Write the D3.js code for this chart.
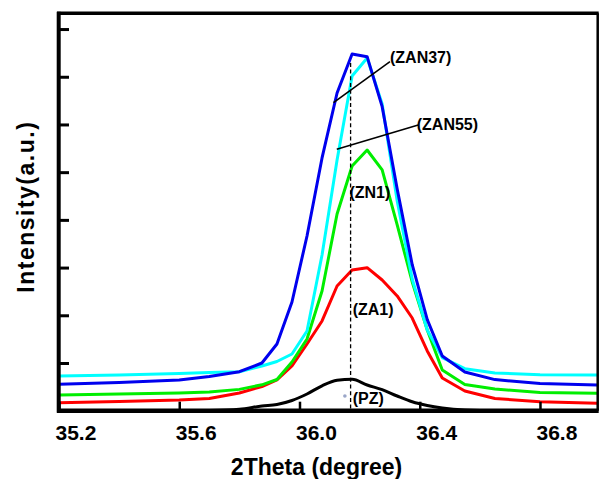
<!DOCTYPE html>
<html>
<head>
<meta charset="utf-8">
<script src="https://cdn.jsdelivr.net/npm/d3@7"></script>
<style>
  html, body { margin: 0; padding: 0; background: #fff; }
  svg { display: block; }
  text { font-family: "Liberation Sans", Arial, sans-serif; font-weight: bold; fill: #000; }
</style>
</head>
<body>
<svg id="chart" width="599" height="479"></svg>
<script>
// ---- data ----
const xs = [35.2, 35.4, 35.6, 35.7, 35.8, 35.875, 35.925, 35.975, 36.025, 36.075, 36.125, 36.175,
            36.225, 36.275, 36.325, 36.375, 36.425, 36.475, 36.55, 36.65, 36.8, 36.99];
const zan37 = [0.553, 0.591, 0.644, 0.717, 0.818, 1.000, 1.398, 2.279, 3.662, 5.298, 6.660, 7.478,
               7.421, 6.373, 4.648, 3.061, 1.910, 1.147, 0.811, 0.652, 0.570, 0.539];
const zan55 = [0.727, 0.748, 0.780, 0.801, 0.818, 0.937, 1.031, 1.189, 1.671, 3.264, 5.256, 7.017,
               7.394, 6.430, 4.396, 2.761, 1.692, 1.113, 0.881, 0.790, 0.753, 0.748];
const zn1   = [0.329, 0.350, 0.371, 0.392, 0.447, 0.543, 0.654, 1.021, 1.503, 2.509, 4.124, 5.130,
               5.465, 5.046, 3.893, 2.698, 1.692, 0.853, 0.549, 0.455, 0.382, 0.365];
const za1   = [0.168, 0.193, 0.224, 0.256, 0.371, 0.507, 0.646, 0.937, 1.398, 1.881, 2.614, 2.950,
               2.998, 2.740, 2.405, 1.943, 1.252, 0.686, 0.413, 0.256, 0.189, 0.155];
const pz    = [0.000, 0.000, 0.000, 0.005, 0.029, 0.099, 0.130, 0.214, 0.350, 0.522, 0.637, 0.658,
               0.539, 0.442, 0.308, 0.187, 0.109, 0.057, 0.015, 0.000, 0.000, 0.000];
const seriesNames  = ["PZ", "ZA1", "ZN1", "ZAN55", "ZAN37"];
const seriesColors = ["#000000", "#ff0000", "#00ee00", "#00ffff", "#0000ee"];
const xTicks = [35.2, 35.6, 36.0, 36.4, 36.8];
const yTicks = [1, 2, 3, 4, 5, 6, 7, 8];
const labelText = ["(ZAN37)", "(ZAN55)", "(ZN1)", "(ZA1)", "(PZ)"];
const labelX = [36.301, 36.390, 36.166, 36.177, 36.177];
const labelY = [7.409, 5.990, 4.579, 2.111, 0.260];
const leaderFrom = [[36.301, 7.317], [36.395, 5.990]];
const leaderTo   = [[36.113, 6.457], [36.124, 5.480]];
const markerX = 36.170, markerTop = 7.29;

// ---- chart ----
const svg = d3.select("#chart");
const L = 59, R = 597.7, T = 13.3, B = 410.7;
const x = d3.scaleLinear().domain([35.2, 36.992]).range([L, R]);
const y = d3.scaleLinear().domain([0, 8.33]).range([B, T]);

const allSeries = [pz, za1, zn1, zan55, zan37];

const clip = svg.append("clipPath").attr("id", "clip")
  .append("rect").attr("x", L).attr("y", T).attr("width", R - L).attr("height", B - T);

const plot = svg.append("g").attr("clip-path", "url(#clip)");

allSeries.forEach((vals, i) => {
  const line = d3.line()
    .x((d, j) => x(xs[j]))
    .y(d => y(d))
    .curve(i === 0 ? d3.curveMonotoneX : d3.curveLinear);
  plot.append("path")
    .datum(vals)
    .attr("fill", "none")
    .attr("stroke", seriesColors[i])
    .attr("stroke-width", 3)
    .attr("stroke-linejoin", "round")
    .attr("d", line);
});

// dashed marker line
svg.append("line")
  .attr("x1", x(markerX)).attr("x2", x(markerX))
  .attr("y1", y(markerTop)).attr("y2", y(0))
  .attr("stroke", "#000").attr("stroke-width", 1.3)
  .attr("stroke-dasharray", "4,2.7");

// leader lines
leaderFrom.forEach((p, i) => {
  svg.append("line")
    .attr("x1", x(p[0])).attr("y1", y(p[1]))
    .attr("x2", x(leaderTo[i][0])).attr("y2", y(leaderTo[i][1]))
    .attr("stroke", "#000").attr("stroke-width", 1.6);
});

// small dot artifact near PZ
svg.append("circle")
  .attr("cx", x(36.151)).attr("cy", y(0.308)).attr("r", 1.8)
  .attr("fill", "#9aa6c8");

// labels
labelText.forEach((t, i) => {
  svg.append("text")
    .attr("x", x(labelX[i])).attr("y", y(labelY[i]))
    .attr("dominant-baseline", "central")
    .attr("font-size", 16)
    .text(t);
});

// x axis
const xAxis = d3.axisBottom(x).tickValues(xTicks).tickSizeInner(-9).tickSizeOuter(0)
  .tickFormat(d3.format(".1f"));
const gx = svg.append("g").attr("transform", `translate(0,${B})`).call(xAxis);
gx.select(".domain").remove();
gx.selectAll(".tick line").attr("stroke", "#000").attr("stroke-width", 2.5);
gx.selectAll(".tick text")
  .attr("text-anchor", "start")
  .attr("x", -4).attr("y", 29.3).attr("dy", null)
  .attr("font-size", 21).attr("font-family", "Liberation Sans, Arial, sans-serif")
  .attr("font-weight", "bold").attr("fill", "#000");

// y axis
const yAxis = d3.axisLeft(y).tickValues(yTicks).tickSizeInner(-10).tickSizeOuter(0).tickFormat("");
const gy = svg.append("g").attr("transform", `translate(${L},0)`).call(yAxis);
gy.select(".domain").remove();
gy.selectAll(".tick line").attr("stroke", "#000").attr("stroke-width", 3);

// frame
svg.append("line").attr("x1", L - 2).attr("x2", R + 1).attr("y1", T).attr("y2", T)
  .attr("stroke", "#000").attr("stroke-width", 3.5);
svg.append("line").attr("x1", R).attr("x2", R).attr("y1", T).attr("y2", B)
  .attr("stroke", "#000").attr("stroke-width", 2.5);
svg.append("line").attr("x1", L - 0.3).attr("x2", L - 0.3).attr("y1", T - 1.5).attr("y2", B + 2)
  .attr("stroke", "#000").attr("stroke-width", 4);
svg.append("line").attr("x1", L - 2).attr("x2", R + 1).attr("y1", B).attr("y2", B)
  .attr("stroke", "#000").attr("stroke-width", 4.5);

// axis titles
svg.append("text")
  .attr("x", 316.5).attr("y", 475)
  .attr("text-anchor", "middle")
  .attr("font-size", 23)
  .text("2Theta (degree)");
svg.append("text")
  .attr("transform", "translate(33.5,206.7) rotate(-90)")
  .attr("text-anchor", "middle")
  .attr("font-size", 23)
  .attr("letter-spacing", 1.5)
  .text("Intensity(a.u.)");
</script>
</body>
</html>
